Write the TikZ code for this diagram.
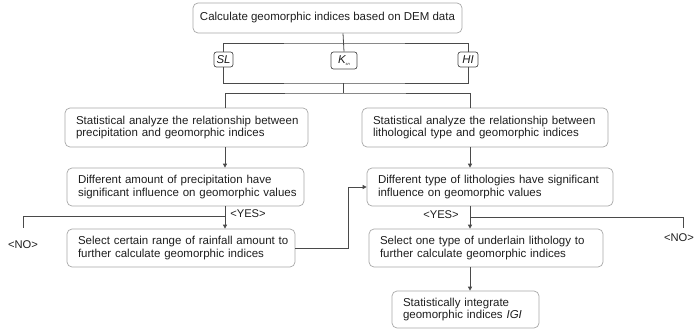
\documentclass[tikz,border=0pt]{standalone}
\usepackage{fontspec}
\setmainfont{Liberation Sans}
\usetikzlibrary{arrows.meta}
\definecolor{boxgray}{HTML}{A8A8A8}
\definecolor{linegray}{HTML}{4A4A4A}
\definecolor{txt}{HTML}{1E1E1E}
\begin{document}
\begin{tikzpicture}[x=1pt,y=-1pt,
  box/.style={draw=boxgray, rounded corners=5pt, line width=0.7pt, align=left,
    inner xsep=3pt, inner ysep=0pt, text=txt, font=\fontsize{11.5}{12.2}\selectfont,
    execute at begin node={\leftskip=8pt\relax\hyphenpenalty=10000\exhyphenpenalty=10000\relax}},
  tbox/.style={draw=boxgray, rounded corners=5pt, line width=0.7pt, align=center,
    inner xsep=3pt, inner ysep=0pt, text=txt, font=\fontsize{11.5}{12.2}\selectfont},
  sbox/.style={draw=linegray, rounded corners=2.5pt, line width=0.7pt, inner sep=0pt,
    text=txt, font=\fontsize{11.4}{12}\selectfont\itshape, minimum height=15pt},
  lab/.style={text=txt, inner sep=0pt, font=\fontsize{11.2}{12}\selectfont},
  conn/.style={draw=linegray, line width=0.8pt},
  arr/.style={conn, -{Triangle[length=4pt,width=4pt]}}
]
\useasboundingbox (0,0) rectangle (700,332);

% nodes
\node[tbox, minimum width=269pt, minimum height=30pt] (top) at (327.5,18) {Calculate geomorphic indices based on DEM data};
\node[sbox, minimum width=19pt] (sl) at (223.5,59.5) {SL};
\node[sbox, minimum width=26pt, minimum height=17pt] (ksn) at (344,60.5) {K\raisebox{-2.5pt}{\fontsize{4}{4}\selectfont sn}};
\node[sbox, minimum width=20pt] (hi) at (468,59.5) {HI};

\node[box, text width=237pt, minimum height=39pt] (a) at (186.5,127.5) {Statistical analyze the relationship between\\precipitation and geomorphic indices};
\node[box, text width=231pt, minimum height=38pt] (b) at (185.5,187) {Different amount of precipitation have\\significant influence on geomorphic values};
\node[box, text width=222pt, minimum height=38pt] (c) at (181,248) {Select certain range of rainfall amount to\\further calculate geomorphic indices};

\node[box, text width=240pt, minimum height=39pt] (d) at (485,127.5) {Statistical analyze the relationship between\\lithological type and geomorphic indices};
\node[box, text width=240pt, minimum height=38pt] (e) at (490,187) {Different type of lithologies have significant\\influence on geomorphic values};
\node[box, text width=228pt, minimum height=38pt] (f) at (486,248) {Select one type of underlain lithology to\\further calculate geomorphic indices};
\node[box, text width=141pt, minimum height=37pt] (g) at (465.5,309.5) {Statistically integrate\\geomorphic indices \textit{IGI}};

\node[lab] (noL) at (23,245) {<NO>};
\node[lab] (yesL) at (248,214) {<YES>};
\node[lab] (noR) at (679,238) {<NO>};
\node[lab] (yesR) at (441,215) {<YES>};

% junction coordinates
\coordinate (j1) at (343,43);
\coordinate (j2) at (343,83);
\coordinate (j3) at (343,93);
\coordinate (colL) at (225,0);
\coordinate (colR) at (470,0);
\coordinate (brL) at (225,216);
\coordinate (brR) at (470,217);
\coordinate (noLend) at (23,228);
\coordinate (noRend) at (683,228);
\coordinate (loop) at (348,0);

% top tree
\draw[conn] (top.south -| j1) -- (ksn.north);
\draw[conn] (sl.north) |- (j1) -| (hi.north);
\draw[conn] (sl.south) |- (j2) -| (hi.south);
\draw[conn] (j2) -- (j3);
\draw[conn] (a.north -| colL) |- (j3) -| (d.north -| colR);

% left column
\draw[arr] (a.south -| colL) -- (b.north -| colL);
\draw[arr] (b.south -| colL) -- (c.north -| colL);
\draw[conn] (brL) -| (noLend);
\draw[arr] (c.east) -| (loop |- e.west) -- (e.west);

% right column
\draw[arr] (d.south -| colR) -- (e.north -| colR);
\draw[arr] (e.south -| colR) -- (f.north -| colR);
\draw[conn] (brR) -| (noRend);
\draw[arr] (f.south -| colR) -- (g.north -| colR);
\end{tikzpicture}
\end{document}
